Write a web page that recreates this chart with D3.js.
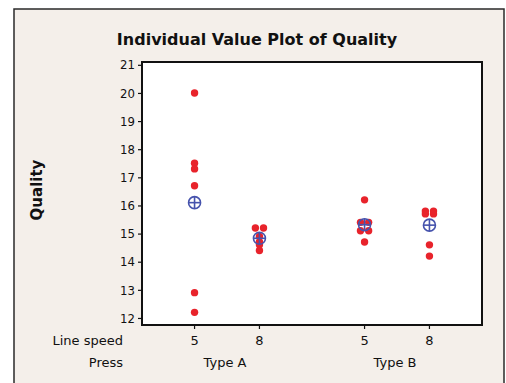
<!DOCTYPE html>
<html>
<head>
<meta charset="utf-8">
<script src="https://cdn.jsdelivr.net/npm/d3@7"></script>
<style>
  html, body { margin: 0; padding: 0; background: #fff; }
  svg { display: block; }
</style>
</head>
<body>
<script>
// Individual value plot of Quality, by Press and Line speed

var presses = ['Type A', 'Type B'];
var speeds = ['5', '8'];
var typeA5 = [20.0, 17.5, 17.3, 16.7, 12.9, 12.2];
var typeA8 = [15.2, 15.2, 14.9, 14.7, 14.6, 14.4];
var typeB5 = [16.2, 15.4, 15.4, 15.1, 15.1, 14.7];
var typeB8 = [15.8, 15.8, 15.7, 15.7, 14.6, 14.2];
var yTicks = [12, 13, 14, 15, 16, 17, 18, 19, 20, 21];

var groups = [
  {press: 'Type A', speed: '5', values: typeA5},
  {press: 'Type A', speed: '8', values: typeA8},
  {press: 'Type B', speed: '5', values: typeB5},
  {press: 'Type B', speed: '8', values: typeB8}
];

var W = 506, H = 383,
    plot = {left: 142, top: 62, right: 482, bottom: 325},
    red = '#e8232b', blue = '#4653ad', ink = '#111';

var svg = d3.select('body').append('svg')
  .attr('width', W)
  .attr('height', H);

// page background and frame
svg.append('rect')
  .attr('x', 14).attr('y', 9)
  .attr('width', 490).attr('height', H)
  .attr('fill', '#f4efea')
  .attr('stroke', '#2a2a2a')
  .attr('stroke-width', 1.5);

var y = d3.scaleLinear()
  .domain([11.75, 21.1])
  .range([plot.bottom, plot.top]);

var xPress = d3.scaleBand()
  .domain(presses)
  .range([plot.left, plot.right])
  .padding(0);

var xSpeed = d3.scalePoint()
  .domain(speeds)
  .range([0, xPress.bandwidth()])
  .padding(0.81);

function gx(d) { return xPress(d.press) + xSpeed(d.speed); }

svg.append('rect')
  .attr('x', plot.left).attr('y', plot.top)
  .attr('width', plot.right - plot.left)
  .attr('height', plot.bottom - plot.top)
  .attr('fill', '#fff');

// y axis
var yAxis = svg.append('g')
  .attr('transform', 'translate(' + plot.left + ',0)')
  .call(d3.axisLeft(y).tickValues(yTicks).tickSize(4).tickPadding(3).tickSizeOuter(0));
yAxis.select('.domain').remove();
yAxis.selectAll('line').attr('stroke', ink).attr('stroke-width', 1.2);
yAxis.selectAll('text')
  .attr('fill', ink)
  .style('font', '13px "DejaVu Sans Condensed", "DejaVu Sans", sans-serif');

// x ticks (one per group)
svg.append('g').selectAll('line')
  .data(groups)
  .join('line')
  .attr('x1', gx).attr('x2', gx)
  .attr('y1', plot.bottom).attr('y2', plot.bottom + 4)
  .attr('stroke', ink).attr('stroke-width', 1.2);

var labFont = '13px "DejaVu Sans", sans-serif';

svg.append('g').selectAll('text')
  .data(groups)
  .join('text')
  .attr('x', gx)
  .attr('y', 345)
  .attr('text-anchor', 'middle')
  .attr('fill', ink)
  .style('font', labFont)
  .text(function (d) { return d.speed; });

svg.append('g').selectAll('text')
  .data(presses)
  .join('text')
  .attr('x', function (p) { return xPress(p) + xPress.bandwidth() / 2 - 2; })
  .attr('y', 367)
  .attr('text-anchor', 'middle')
  .attr('fill', ink)
  .style('font', labFont)
  .text(function (p) { return p; });

svg.append('text')
  .attr('x', 123).attr('y', 345)
  .attr('text-anchor', 'end')
  .attr('fill', ink)
  .style('font', labFont)
  .text('Line speed');

svg.append('text')
  .attr('x', 123).attr('y', 367)
  .attr('text-anchor', 'end')
  .attr('fill', ink)
  .style('font', labFont)
  .text('Press');

// title and y label
svg.append('text')
  .attr('x', 257).attr('y', 45)
  .attr('text-anchor', 'middle')
  .attr('fill', ink)
  .style('font', 'bold 16px "DejaVu Sans", sans-serif')
  .text('Individual Value Plot of Quality');

svg.append('text')
  .attr('transform', 'translate(42,190) rotate(-90)')
  .attr('text-anchor', 'middle')
  .attr('fill', ink)
  .style('font', 'bold 15px "DejaVu Sans", sans-serif')
  .text('Quality');

// points, tied values placed side by side
var dotR = 3.7, pts = [];
groups.forEach(function (g) {
  var counts = d3.rollup(g.values, function (v) { return v.length; }, function (v) { return v; });
  var seen = new Map();
  g.values.forEach(function (v) {
    var k = counts.get(v), i = seen.get(v) || 0;
    seen.set(v, i + 1);
    pts.push({x: gx(g) + (i - (k - 1) / 2) * dotR * 2.2, v: v});
  });
});

svg.append('g').selectAll('circle')
  .data(pts)
  .join('circle')
  .attr('cx', function (d) { return d.x; })
  .attr('cy', function (d) { return y(d.v); })
  .attr('r', dotR)
  .attr('fill', red);

// mean symbols
var means = svg.append('g').selectAll('g')
  .data(groups)
  .join('g')
  .attr('transform', function (d) { return 'translate(' + gx(d) + ',' + y(d3.mean(d.values)) + ')'; })
  .attr('stroke', blue)
  .attr('stroke-width', 1.6)
  .attr('fill', 'none');
means.append('circle').attr('r', 6);
means.append('line').attr('x1', -6).attr('x2', 6);
means.append('line').attr('y1', -6).attr('y2', 6);

// plot border
svg.append('rect')
  .attr('x', plot.left).attr('y', plot.top)
  .attr('width', plot.right - plot.left)
  .attr('height', plot.bottom - plot.top)
  .attr('fill', 'none')
  .attr('stroke', ink)
  .attr('stroke-width', 2);
</script>
</body>
</html>
